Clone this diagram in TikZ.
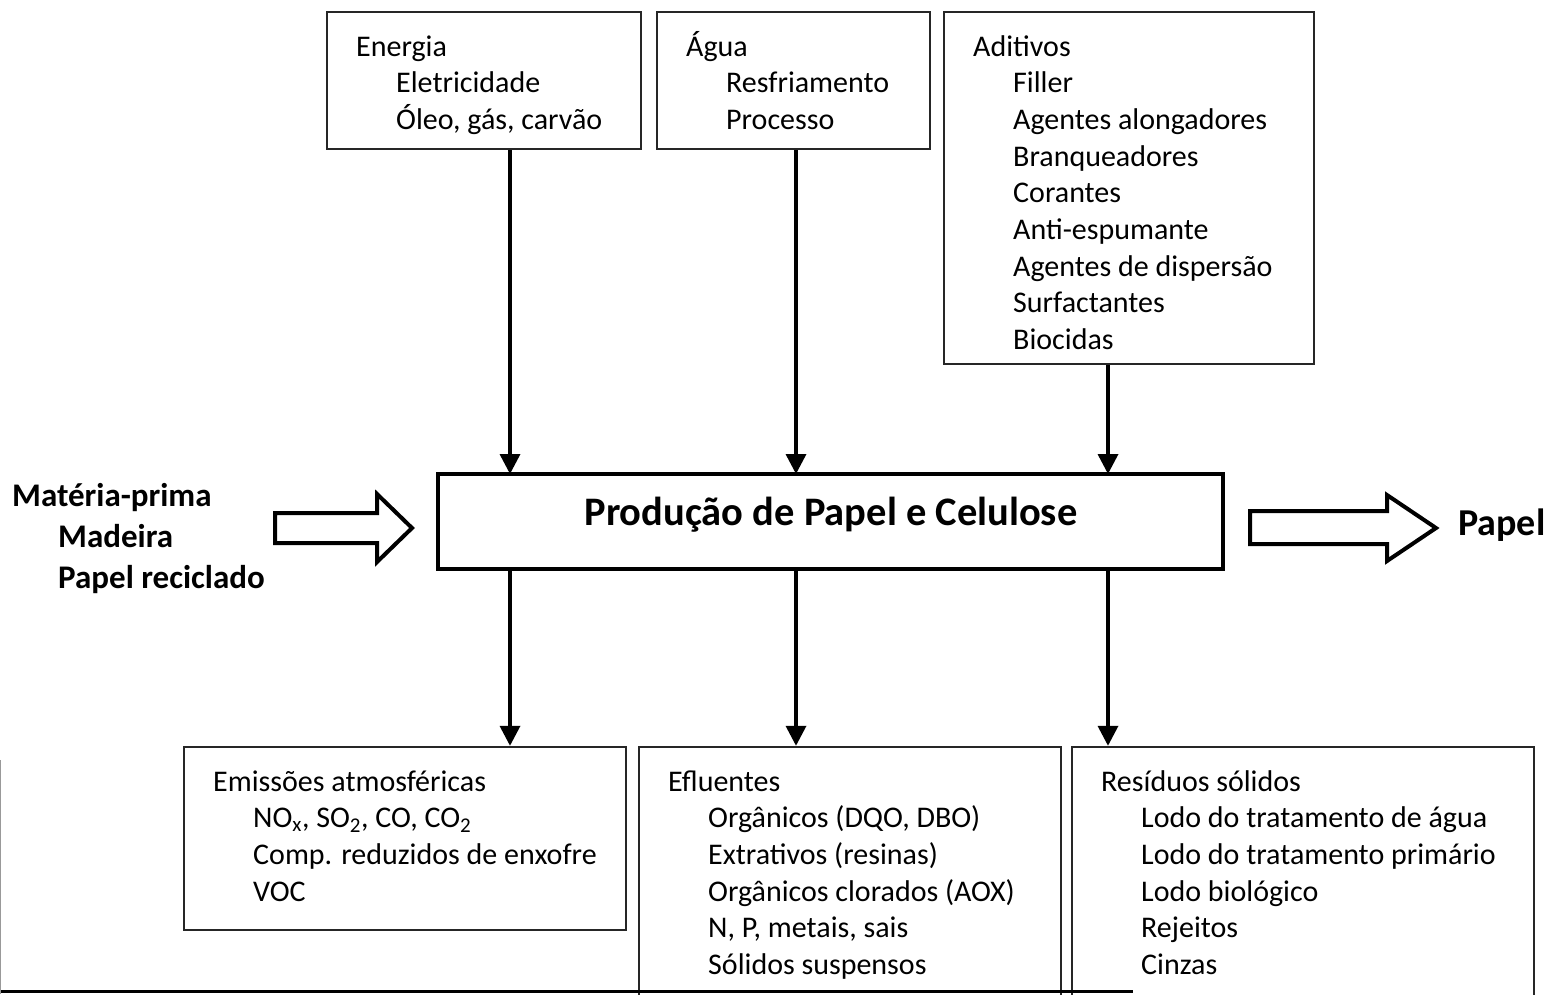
\documentclass[tikz,border=0pt]{standalone}
\usepackage{fontspec}
\setmainfont{Carlito}
\usetikzlibrary{arrows.meta}
\tikzset{
  box/.style={draw=black!85, line width=2.4pt, inner sep=0pt},
  mainbox/.style={draw=black, line width=4.5pt, inner sep=0pt},
  txt/.style={anchor=base west, inner sep=0pt, align=left, font=\fontsize{30}{36.7}\selectfont},
  boldtxt/.style={anchor=base west, inner sep=0pt, align=left, font=\fontsize{33}{41}\selectfont\bfseries},
  arr/.style={line width=3.5pt, -{Triangle[length=20pt,width=20pt]}},
  blockarrow/.style={draw=black, line width=4pt, fill=white, line join=miter},
}
\newcommand{\ind}{\hspace*{40pt}}
\begin{document}
\begin{tikzpicture}[x=1pt,y=-1pt]
\useasboundingbox (0,0) rectangle (1553,994);
\clip (0,0) rectangle (1553,994);
\fill[white] (0,0) rectangle (1553,994);

% top boxes
\node[box, minimum width=314pt, minimum height=137pt] (energia) at (484,80.5) {};
\node[box, minimum width=273pt, minimum height=137pt] (agua) at (793.5,80.5) {};
\node[box, minimum width=370pt, minimum height=352pt] (aditivos) at (1129,188) {};

% (anchor base west = baseline of the last line)
\node[txt] (tenergia) at (356,129.4) {Energia\\ \ind Eletricidade\\ \ind Óleo, gás, carvão};
\node[txt] (tagua) at (686,129.4) {Água\\ \ind Resfriamento\\ \ind Processo};
\node[txt] (taditivos) at (973,349.6) {Aditivos\\ \ind Filler\\ \ind Agentes alongadores\\ \ind Branqueadores\\ \ind Corantes\\ \ind Anti-espumante\\ \ind Agentes de dispersão\\ \ind Surfactantes\\ \ind Biocidas};

% central box
\node[mainbox, minimum width=785pt, minimum height=95pt] (prod) at (830.5,521.5) {};
\node[anchor=base, inner sep=0pt, font=\fontsize{40.5}{46}\selectfont\bfseries] (tprod) at (831,525) {Produção de Papel e Celulose};

\coordinate (in1) at (510,474);
\coordinate (in2) at (796,474);
\coordinate (in3) at (1108,474);
\coordinate (out1) at (510,569);
\coordinate (out2) at (796,569);
\coordinate (out3) at (1108,569);

% bottom boxes
\node[box, minimum width=442pt, minimum height=183pt] (emis) at (405,838.5) {};
\node[box, minimum width=422pt, minimum height=283pt] (eflu) at (850,888.5) {};
\node[box, minimum width=462pt, minimum height=283pt] (resid) at (1303,888.5) {};

\node[txt] (temis) at (213,901.1) {Emissões atmosféricas\\ \ind NO\textsubscript{x}, SO\textsubscript{2}, CO, CO\textsubscript{2}\\ \ind Comp. reduzidos de enxofre\\ \ind VOC};
\node[txt] (teflu) at (668,974.5) {Efluentes\\ \ind Orgânicos (DQO, DBO)\\ \ind Extrativos (resinas)\\ \ind Orgânicos clorados (AOX)\\ \ind N, P, metais, sais\\ \ind Sólidos suspensos};
\node[txt] (tresid) at (1101,974.5) {Resíduos sólidos\\ \ind Lodo do tratamento de água\\ \ind Lodo do tratamento primário\\ \ind Lodo biológico\\ \ind Rejeitos\\ \ind Cinzas};

% vertical arrows
\draw[arr] (in1 |- energia.south) -- (in1);
\draw[arr] (in2 |- agua.south) -- (in2);
\draw[arr] (in3 |- aditivos.south) -- (in3);
\draw[arr] (out1) -- (out1 |- emis.north);
\draw[arr] (out2) -- (out2 |- eflu.north);
\draw[arr] (out3) -- (out3 |- resid.north);

% left input
\node[boldtxt] (tmat) at (12,588) {Matéria-prima\\ \hspace*{46pt}Madeira\\ \hspace*{46pt}Papel reciclado};
\draw[blockarrow] (275,513) -- (377,513) -- (377,494) -- (412,528) -- (377,562) -- (377,543) -- (275,543) -- cycle;

% right output
\draw[blockarrow] (1250,511) -- (1387,511) -- (1387,495) -- (1436,528) -- (1387,561) -- (1387,544) -- (1250,544) -- cycle;
\node[anchor=base west, inner sep=0pt, font=\fontsize{38}{44}\selectfont\bfseries] (tpapel) at (1458,535) {Papel};

% frame artefacts
\draw[line width=3pt] (0,991) -- (1133,991);
\draw[black!40, line width=1pt] (0.5,760) -- (0.5,994);
\end{tikzpicture}
\end{document}
